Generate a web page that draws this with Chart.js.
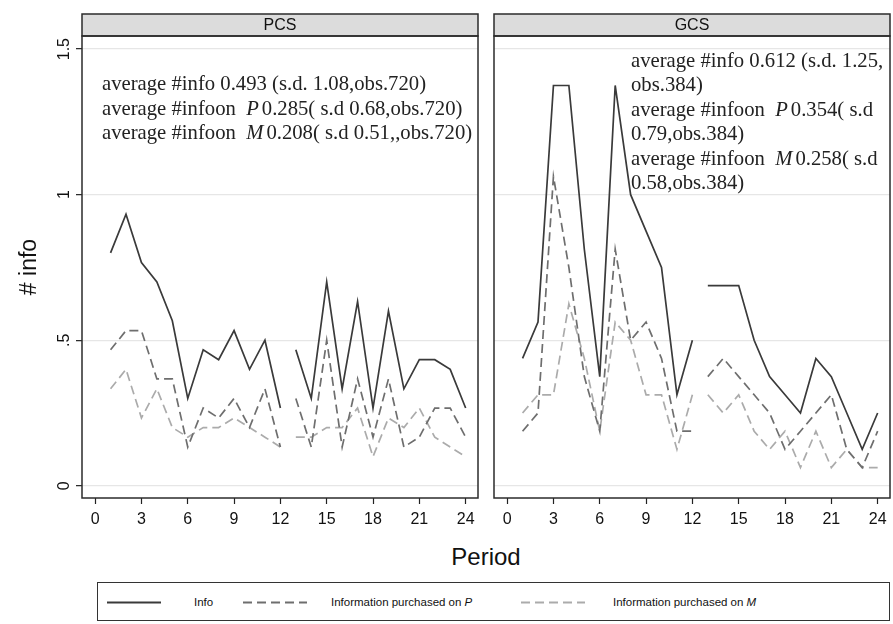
<!DOCTYPE html>
<html><head><meta charset="utf-8">
<script src="https://cdn.jsdelivr.net/npm/chart.js@4.4.0/dist/chart.umd.min.js"></script>
<style>
body{margin:0;background:#fff;width:893px;height:624px;overflow:hidden;position:relative;font-family:"Liberation Sans",Arial,sans-serif;color:#111}
#c1{position:absolute;left:0;top:0}
#c2{position:absolute;left:482px;top:0}
#xt{position:absolute;left:82px;width:808px;top:543px;text-align:center;font-size:24px;line-height:28px}
#leg{position:absolute;left:97px;top:582px;width:793px;height:39px;border:1px solid #333;box-sizing:border-box;font-size:11.5px}
#leg svg{position:absolute;left:0;top:0}
#leg span{position:absolute;top:12px;line-height:14px;white-space:nowrap}
</style></head>
<body>
<canvas id="c1" width="482" height="540"></canvas>
<canvas id="c2" width="411" height="540"></canvas>
<div id="xt">Period</div>
<div id="leg">
<svg width="793" height="39">
<line x1="9" y1="19.5" x2="63" y2="19.5" stroke="#3a3a3a" stroke-width="1.8"/>
<line x1="145" y1="19.5" x2="209" y2="19.5" stroke="#6e6e6e" stroke-width="1.8" stroke-dasharray="9,5"/>
<line x1="423" y1="19.5" x2="487" y2="19.5" stroke="#ababab" stroke-width="1.8" stroke-dasharray="9,5"/>
</svg>
<span id="l0" style="left:96px"></span>
<span id="l1" style="left:233px"></span>
<span id="l2" style="left:515px"></span>
</div>
<script>
// ---- data ----
const periods = [1,2,3,4,5,6,7,8,9,10,11,12,13,14,15,16,17,18,19,20,21,22,23,24];
const breakAfter = 12;
const xTicks = [0,3,6,9,12,15,18,21,24];
const yTicks = [0,0.5,1,1.5];
const yTickLabels = ['0','.5','1','1.5'];
const panelTitles = ['PCS','GCS'];
const seriesNames = ['Info','Information purchased on ','Information purchased on '];
const seriesItalic = ['','P','M'];

const pcsInfo = [0.8,0.933,0.767,0.7,0.567,0.3,0.467,0.433,0.533,0.4,0.5,0.267,0.467,0.3,0.7,0.333,0.633,0.267,0.6,0.333,0.433,0.433,0.4,0.267];
const pcsP    = [0.467,0.533,0.533,0.367,0.367,0.133,0.267,0.233,0.3,0.2,0.333,0.133,0.3,0.133,0.5,0.133,0.367,0.167,0.367,0.133,0.167,0.267,0.267,0.167];
const pcsM    = [0.333,0.4,0.233,0.333,0.2,0.167,0.2,0.2,0.233,0.2,0.167,0.133,0.167,0.167,0.2,0.2,0.267,0.1,0.233,0.2,0.267,0.167,0.133,0.1];

const gcsInfo = [0.4375,0.5625,1.375,1.375,0.8125,0.375,1.375,1.0,0.875,0.75,0.3125,0.5,0.6875,0.6875,0.6875,0.5,0.375,0.3125,0.25,0.4375,0.375,0.25,0.125,0.25];
const gcsP    = [0.1875,0.25,1.0625,0.75,0.375,0.1875,0.8125,0.5,0.5625,0.4375,0.1875,0.1875,0.375,0.4375,0.375,0.3125,0.25,0.125,0.1875,0.25,0.3125,0.125,0.0625,0.1875];
const gcsM    = [0.25,0.3125,0.3125,0.625,0.4375,0.1875,0.5625,0.5,0.3125,0.3125,0.125,0.3125,0.3125,0.25,0.3125,0.1875,0.125,0.1875,0.0625,0.1875,0.0625,0.125,0.0625,0.0625];

// note lines: segments [text, italic]
const pcsNotes = [
  [['average #info 0.493 (s.d. 1.08,obs.720)',0]],
  [['average #infoon  ',0],['P',1],['0.285( s.d 0.68,obs.720)',0]],
  [['average #infoon  ',0],['M',1],['0.208( s.d 0.51,,obs.720)',0]]
];
const gcsNotes = [
  [['average #info 0.612 (s.d. 1.25,',0]],
  [['obs.384)',0]],
  [['average #infoon  ',0],['P',1],['0.354( s.d',0]],
  [['0.79,obs.384)',0]],
  [['average #infoon  ',0],['M',1],['0.258( s.d',0]],
  [['0.58,obs.384)',0]]
];

// ---- legend text ----
['l0','l1','l2'].forEach((id,i)=>{
  const el=document.getElementById(id);
  el.textContent=seriesNames[i];
  if(seriesItalic[i]){const it=document.createElement('i');it.textContent=seriesItalic[i];el.appendChild(it);}
});

Chart.defaults.font.family='"Liberation Sans", Arial, sans-serif';
Chart.defaults.color='#111';

function pts(vals){
  const out=[];
  periods.forEach((p,i)=>{out.push({x:p,y:vals[i]}); if(p===breakAfter) out.push({x:p+0.5,y:null});});
  return out;
}
const styles=[
  {borderColor:'#3a3a3a',borderDash:[]},
  {borderColor:'#6e6e6e',borderDash:[9,5]},
  {borderColor:'#ababab',borderDash:[9,5]}
];
function datasets(arrs){
  return arrs.map((a,i)=>({label:seriesNames[i]+seriesItalic[i],data:pts(a),borderColor:styles[i].borderColor,borderDash:styles[i].borderDash,borderWidth:1.7,pointRadius:0,tension:0,spanGaps:false,fill:false}));
}

const framePlugin={
  id:'frame',
  afterDraw(chart,args,opts){
    const {ctx,chartArea:a}=chart;
    ctx.save();
    ctx.fillStyle='#dcdcdc';
    ctx.fillRect(a.left,opts.headTop,a.right-a.left,a.top-opts.headTop);
    ctx.strokeStyle='#2b2b2b';ctx.lineWidth=1.5;
    ctx.strokeRect(a.left,opts.headTop,a.right-a.left,a.top-opts.headTop);
    ctx.strokeRect(a.left,a.top,a.right-a.left,a.bottom-a.top);
    ctx.fillStyle='#111';ctx.font='16px "Liberation Sans", Arial';ctx.textAlign='center';ctx.textBaseline='middle';
    ctx.fillText(opts.title,(a.left+a.right)/2,(opts.headTop+a.top)/2+1);
    ctx.restore();
  }
};
const notesPlugin={
  id:'notes',
  afterDatasetsDraw(chart,args,opts){
    const {ctx,chartArea:a}=chart;
    ctx.save();
    ctx.beginPath();ctx.rect(a.left,a.top,a.right-a.left,a.bottom-a.top);ctx.clip();
    ctx.fillStyle='#222';ctx.textBaseline='middle';ctx.textAlign='left';
    opts.lines.forEach((line,li)=>{
      let x=a.left+opts.dx;const y=opts.y0+li*opts.dy;
      line.forEach(([t,it])=>{
        ctx.font=(it?'italic ':'')+opts.size+'px "Liberation Serif", "DejaVu Serif", serif';
        ctx.fillText(t,x,y);
        x+=ctx.measureText(t).width+(it?3:0);
      });
    });
    ctx.restore();
  }
};

function xScale(){
  return {type:'linear',min:-0.85,max:24.8,
    afterBuildTicks:s=>{s.ticks=xTicks.map(v=>({value:v}));},
    afterFit:s=>{s.height=42;},
    ticks:{font:{size:16},color:'#111',padding:6,maxRotation:0,minRotation:0,autoSkip:false,callback:v=>String(v)},
    grid:{drawOnChartArea:false,tickColor:'#222',tickLength:6,tickWidth:1.2},
    border:{display:false}};
}
function yScale(showLabels,w){
  const s={type:'linear',min:-0.042,max:1.545,
    afterBuildTicks:s=>{s.ticks=yTicks.map(v=>({value:v}));},
    afterFit:s=>{s.width=w;},
    grid:{color:'#e6e6e6',lineWidth:1.3,tickColor:'#222',tickLength:6,tickWidth:1.2,drawTicks:showLabels},
    border:{display:false}};
  if(showLabels){
    s.ticks={callback:v=>yTickLabels[yTicks.indexOf(v)],minRotation:90,maxRotation:90,crossAlign:'center',padding:0,font:{size:16},color:'#111'};
    s.title={display:true,text:'# info',font:{size:23},color:'#111',padding:{top:16,bottom:0}};
  } else {
    s.ticks={display:false};
  }
  return s;
}

new Chart(document.getElementById('c1'),{
  type:'line',
  data:{datasets:datasets([pcsInfo,pcsP,pcsM])},
  options:{responsive:false,animation:false,devicePixelRatio:1,
    layout:{padding:{top:36,right:4,left:0,bottom:0}},
    scales:{x:xScale(),y:yScale(true,82)},
    plugins:{legend:{display:false},tooltip:{enabled:false},
      frame:{title:panelTitles[0],headTop:14},
      notes:{lines:pcsNotes,dx:20,y0:85,dy:24.5,size:20.7}}},
  plugins:[framePlugin,notesPlugin]
});
new Chart(document.getElementById('c2'),{
  type:'line',
  data:{datasets:datasets([gcsInfo,gcsP,gcsM])},
  options:{responsive:false,animation:false,devicePixelRatio:1,
    layout:{padding:{top:36,right:3,left:0,bottom:0}},
    scales:{x:xScale(),y:yScale(false,12)},
    plugins:{legend:{display:false},tooltip:{enabled:false},
      frame:{title:panelTitles[1],headTop:14},
      notes:{lines:gcsNotes,dx:137,y0:61.5,dy:24.4,size:20.7}}},
  plugins:[framePlugin,notesPlugin]
});
</script>
</body></html>
